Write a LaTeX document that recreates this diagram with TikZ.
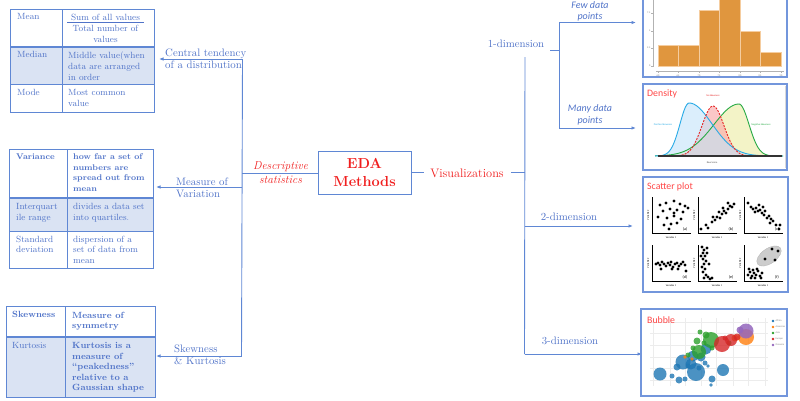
\documentclass[tikz,border=0pt]{standalone}
\usepackage{fontspec}
\newfontfamily\carl{Carlito}
\usetikzlibrary{arrows.meta}
\definecolor{ln}{RGB}{95,135,212}
\definecolor{tx}{RGB}{80,115,200}
\definecolor{rowshade}{RGB}{218,227,243}
\definecolor{edared}{RGB}{240,30,30}
\definecolor{pnl}{RGB}{115,150,220}
\definecolor{hist}{RGB}{224,150,62}
\definecolor{histe}{RGB}{245,205,160}
\definecolor{ttl}{RGB}{255,70,70}
\definecolor{dblue}{RGB}{40,170,230}
\definecolor{dred}{RGB}{230,40,40}
\definecolor{dgreen}{RGB}{40,170,70}
\definecolor{fblue}{RGB}{195,228,250}
\definecolor{fred}{RGB}{250,170,170}
\definecolor{fgreen}{RGB}{240,240,185}
\definecolor{bb}{RGB}{31,119,180}
\definecolor{bo}{RGB}{255,127,14}
\definecolor{bg}{RGB}{44,160,44}
\definecolor{br}{RGB}{214,39,40}
\definecolor{bp}{RGB}{148,103,189}
\newcommand\myscat[5]{%
  \draw[black,line width=0.6pt] (#1,#2-36) -- (#1,#2) -- (#1+39,#2);
  \foreach \dx/\dy in {#3} \fill (#1+\dx,#2-\dy) circle (1.6pt);
  \node[tiny4] (#5l) at (#1+33,#2-4) {(#4)};
  \node[tiny2] (#5x) at (#1+19,#2+4.5) {Variable 1};
  \node[tiny2,rotate=90] (#5y) at (#1-4,#2-18) {Variable 2};
}
\begin{document}
\begin{tikzpicture}[x=1pt,y=-1pt,
  tline/.style={ln,line width=0.9pt},
  conn/.style={ln,line width=0.9pt},
  arr/.style={ln,line width=0.9pt,-{Latex[length=4.5pt,width=3.5pt]}},
  cell/.style={anchor=north west,inner sep=0pt,align=left,text=tx,font=\fontsize{9}{11}\selectfont},
  lbl/.style={inner sep=0pt,align=left,text=tx,font=\fontsize{10.8}{12}\selectfont},
  ital/.style={inner sep=0pt,align=center,text=tx,font=\carl\itshape\fontsize{10}{11.5}\selectfont},
  ttlf/.style={anchor=west,inner sep=0pt,text=ttl,font=\carl\fontsize{9.8}{10}\selectfont},
  panel/.style={draw=pnl,line width=1.2pt},
  tiny2/.style={inner sep=0pt,font=\carl\fontsize{2.5}{3}\selectfont},
  tiny4/.style={inner sep=0pt,font=\carl\fontsize{4}{4}\selectfont},
]
\useasboundingbox (0,0) rectangle (800,400);

% ---------- Table 1 ----------
\fill[rowshade] (10,47) rectangle (154,84);
\draw[tline] (10,9) rectangle (154,112);
\draw[tline] (62,9) -- (62,112);
\draw[tline,line width=1.6pt] (10,47) -- (154,47);
\draw[tline] (10,84) -- (154,84);
\node[cell] (mean) at (17,13.5) {Mean};
\node[cell,anchor=center,align=center] (sum) at (105.5,17) {Sum of all values};
\draw[tx,line width=0.7pt] (67,22.5) -- (144,22.5);
\node[cell,anchor=north,align=center] (tot) at (105.5,25) {Total number of\\values};
\node[cell] (median) at (17,51.5) {Median};
\node[cell] (medd) at (68,51.5) {Middle value(when\\data are arranged\\in order};
\node[cell] (mode) at (17,89.5) {Mode};
\node[cell] (moded) at (68,89.5) {Most common\\value};

% ---------- Table 2 ----------
\fill[rowshade] (9,198) rectangle (153,231);
\draw[tline] (9,149) rectangle (153,268);
\draw[tline] (67,149) -- (67,268);
\draw[tline,line width=1.6pt] (9,198) -- (153,198);
\draw[tline] (9,231) -- (153,231);
\node[cell,font=\bfseries\fontsize{8.3}{10.7}\selectfont] (var) at (16,153.5) {Variance};
\node[cell,font=\bfseries\fontsize{8.3}{10.7}\selectfont] (vard) at (73,153.5) {how far a set of\\numbers are\\spread out from\\mean};
\node[cell,font=\fontsize{9}{10.5}\selectfont] (iqr) at (16,203.5) {Interquart\\ile range};
\node[cell,font=\fontsize{9}{10.5}\selectfont] (iqrd) at (73,203.5) {divides a data set\\into quartiles.};
\node[cell,font=\fontsize{9}{10.7}\selectfont] (sd) at (16,235.5) {Standard\\deviation};
\node[cell,font=\fontsize{9}{10.7}\selectfont] (sdd) at (73,235.5) {dispersion of a\\set of data from\\mean};

% ---------- Table 3 ----------
\fill[rowshade] (6,337) rectangle (155,397);
\draw[tline] (6,306) rectangle (155,397);
\draw[tline] (65,306) -- (65,397);
\draw[tline,line width=1.6pt] (6,337) -- (155,337);
\node[cell,font=\bfseries\fontsize{9}{10.5}\selectfont] (skw) at (12,311.5) {Skewness};
\node[cell,font=\bfseries\fontsize{9}{10.5}\selectfont] (skwd) at (72,311.5) {Measure of\\symmetry};
\node[cell] (kur) at (12,342.5) {Kurtosis};
\node[cell,font=\bfseries\fontsize{9}{10.5}\selectfont] (kurd) at (72,342.5) {Kurtosis is a\\measure of\\“peakedness”\\relative to a\\Gaussian shape};

% ---------- Left tree ----------
\coordinate (vtop) at (242.5,59);
\coordinate (vvar) at (242,187);
\coordinate (vds) at (242,173);
\coordinate (vbot) at (241.5,356);
\coordinate (t1r) at (159,59);
\coordinate (t2r) at (156,187);
\coordinate (t3r) at (156,356);
\draw[conn] (vtop) -- (vbot);
\draw[arr] (vtop) -- (t1r);
\draw[arr] (vvar) -- (t2r);
\draw[arr] (vbot) -- (t3r);
\node[lbl,anchor=west] (ct) at (165,59) {Central tendency\\of a distribution};
\node[lbl,anchor=west] (mv) at (176,188) {Measure of\\Variation};
\node[lbl,anchor=west] (sk) at (174,355) {Skewness\\\& Kurtosis};

% ---------- EDA ----------
\node[draw=ln,line width=0.9pt,minimum width=93pt,minimum height=43pt,inner sep=0pt,align=center,
  text=edared,font=\bfseries\fontsize{14.5}{18}\selectfont] (eda) at (364.5,172.5) {EDA\\Methods};
\draw[conn] (vds) -- (eda.west |- vds);
\node[inner sep=0pt,align=center,text=edared,font=\itshape\fontsize{11.5}{14}\selectfont] (ds) at (280.5,173) {Descriptive\\statistics};
\node[inner sep=0pt,text=edared,font=\fontsize{12.3}{14}\selectfont] (vis) at (467,173) {Visualizations};
\coordinate (vx) at (525,172);
\coordinate (vxt) at (525,57);
\coordinate (vxb) at (524.5,354);
\draw[conn] (eda.east |- vx) -- ([xshift=-6pt]vis.west |- vx);
\draw[conn] ([xshift=7pt]vis.east |- vx) -- (vx);
\draw[conn] (vxt) -- (vxb);
\node[lbl,anchor=center] (d1) at (516,44) {1-dimension};
\coordinate (b1) at (559,50);
\coordinate (b1t) at (559,22.5);
\coordinate (b1b) at (559,128);
\draw[conn] (550,50) -- (b1);
\draw[conn] (b1t) -- (b1b);
\coordinate (hist) at (636,22.5);
\coordinate (dens) at (636,128);
\draw[arr] (b1t) -- (hist);
\draw[arr] (b1b) -- (dens);
\node[ital] (few) at (590,11.5) {Few data\\points};
\node[ital] (many) at (590,115) {Many data\\points};
\coordinate (v2) at (524.7,226);
\coordinate (scat) at (633,226);
\draw[arr] (v2) -- (scat);
\node[lbl,anchor=center] (d2) at (569,217) {2-dimension};
\coordinate (bub) at (642,354);
\draw[arr] (vxb) -- (bub);
\node[lbl,anchor=center] (d3) at (570,341) {3-dimension};

% ---------- Histogram panel ----------
\fill[white] (643,-3) rectangle (787,77);
\draw[gray!60,line width=0.5pt] (653,-3) -- (653,67);
\foreach \ty/\tl [count=\i] in {13/7.5,31/5,48/2.5,66/0} {
  \draw[gray!60,line width=0.4pt] (651,\ty) -- (653,\ty);
  \node[tiny2,text=gray,anchor=east] (hy\i) at (650.5,\ty) {\tl};
}
\foreach \xa/\xb/\yt in {658/678/45,678/699/45,699/719/10,719/740/-5,740/760/31,760/781/52}
  \filldraw[fill=hist,draw=histe,line width=0.5pt] (\xa,66) rectangle (\xb,\yt);
\draw[gray!60,line width=0.6pt] (656,71) -- (784,71);
\foreach \tx/\tl [count=\i] in {658/60,678/65,699/70,719/75,740/80,760/85,781/90} {
  \draw[gray!60,line width=0.4pt] (\tx,71) -- (\tx,73);
  \node[tiny2,text=gray] (hx\i) at (\tx,76) {\tl};
}
\draw[panel] (643,-3) rectangle (787,77);

% ---------- Density panel ----------
\begin{scope}[declare function={gs(\x,\m,\a,\b)=exp(-0.5*((\x-\m)/((\x<\m)?\a:\b))*((\x-\m)/((\x<\m)?\a:\b)));}]
\fill[white] (643,84) rectangle (787,170);
\fill[fgreen,opacity=0.8] plot[domain=655:783,samples=90] (\x,{156-52*gs(\x,739,25,10)}) -- cycle;
\fill[fred,opacity=0.65] plot[domain=670:760,samples=70] (\x,{156-50*gs(\x,713,11,11)}) -- cycle;
\fill[fblue,opacity=0.6] plot[domain=655:783,samples=90] (\x,{156-53*gs(\x,689,9,23)}) -- cycle;
\draw[dgreen,line width=0.9pt] plot[domain=655:783,samples=90] (\x,{156-52*gs(\x,739,25,10)});
\draw[dblue,line width=0.9pt] plot[domain=655:783,samples=90] (\x,{156-53*gs(\x,689,9,23)});
\draw[dred,line width=0.9pt,dash pattern=on 2pt off 1.2pt] plot[domain=672:756,samples=70] (\x,{156-50*gs(\x,713,11,11)});
\end{scope}
\draw[black!80,line width=1.1pt] (658,156) -- (782,156);
\node[ttlf] (dtitle) at (647,94) {Density};
\node[tiny2,text=dblue,align=center] (dpos) at (663,125) {Positive Skewness};
\node[tiny2,text=dred,align=center] (dno) at (713,96) {No Skewness};
\node[tiny2,text=dgreen,align=center] (dneg) at (761,125) {Negative Skewness};
\node[tiny2,text=black!70] (draw) at (712,163) {Raw Score};
\draw[gray!30,line width=0.6pt] (785,86) -- (785,168);
\draw[panel] (643,84) rectangle (787,170);

% ---------- Scatter panel ----------
\fill[white] (643,177) rectangle (788,292);
\node[ttlf] (stitle) at (647,187) {Scatter plot};
\myscat{652}{233}{8/28,14/30,22/32,28/29,33/27,11/22,18/24,25/23,31/21,6/16,15/15,22/17,29/14,12/8,19/9,25/10,17/4,22/20,36/25}{a}{sa}
\myscat{698}{233}{3/4,8/8,10/5,14/11,17/13,19/16,22/15,24/19,26/22,28/20,30/24,32/27,34/26,36/29,21/21,25/25,15/16,30/30}{b}{sb}
\myscat{744}{233}{4/30,7/26,9/24,12/25,14/22,16/23,18/20,20/18,21/22,23/15,25/17,27/14,26/10,29/12,32/8,35/4,36/8,15/28,19/26,11/21}{c}{sc}
\fill[gray!40,draw=gray!60,line width=0.3pt] (769,256) ellipse [x radius=14pt,y radius=7.5pt,rotate=35];
\myscat{652}{281}{4/17,6/18,8/16,10/19,12/17,14/15,16/18,18/16,19/19,21/14,23/17,25/18,27/15,29/17,31/19,33/16,34/10,9/12,20/12,26/12}{d}{sd}
\myscat{698}{281}{4/34,6/31,5/28,7/25,5/22,8/20,6/17,4/14,7/12,5/9,8/6,6/3,10/4,12/2,9/28,11/17,14/3,3/25,9/33}{e}{se}
\myscat{744}{281}{4/6,6/9,8/5,10/8,12/6,14/10,7/3,11/3,16/5,18/8,9/11,13/12,5/12,17/3,28/32,34/30,21/22,31/21}{f}{sf}
\draw[panel] (643,177) rectangle (788,292);

% ---------- Bubble panel ----------
\fill[white] (641,309) rectangle (787,396);
\foreach \gy in {322,333,345,357,368,380}
  \draw[gray!15,line width=0.4pt] (650,\gy) -- (768,\gy);
\foreach \gx in {653,670,685,701,716,733,748,765}
  \draw[gray!15,line width=0.4pt] (\gx,318) -- (\gx,386);
\foreach \bx/\by/\br in {660/374/6.5,677/367/3.5,672/376/2.5,683/362/7.5,691/364/5.5,693/356/5.5,696/372/9,701/357/4.5,706/349/5.5,679/380/3.5,685/379/2.5,712/379/3.5,723/370/6,708/366/1.8,711/385/1.8,705/363/2.5,688/366/2.5,699/368/2.5}
  \fill[bb,fill opacity=0.8] (\bx,\by) circle (\br pt);
\foreach \bx/\by/\br in {699/352/7,711/340/8,706/335/3.5,697/341/3.5,688/355/2.5,693/348/2.5,700/332/2.5,712/348/2.5,729/343/2.5,704/343/2.5}
  \fill[bg,fill opacity=0.8] (\bx,\by) circle (\br pt);
\foreach \bx/\by/\br in {692/359/1.8,685/357/1.8,735/338/3.5,746/337/8}
  \fill[bo,fill opacity=0.8] (\bx,\by) circle (\br pt);
\foreach \bx/\by/\br in {722/344/8,731/340/6,737/337/3.5,725/338/2.5}
  \fill[br,fill opacity=0.8] (\bx,\by) circle (\br pt);
\foreach \bx/\by/\br in {746/331/7.5,740/330/3.5}
  \fill[bp,fill opacity=0.85] (\bx,\by) circle (\br pt);
\foreach \lc/\lt/\ly [count=\i] in {bb/Africa/321,bo/Americas/327,bg/Asia/333,br/Europe/339,bp/Oceania/345} {
  \fill[\lc] (773,\ly) circle (1.3pt);
  \node[tiny2,anchor=west,text=gray] (lg\i) at (775.5,\ly) {\lt};
}
\node[ttlf] (btitle) at (647,320) {Bubble};
\draw[panel] (641,309) rectangle (787,396);
\end{tikzpicture}
\end{document}
